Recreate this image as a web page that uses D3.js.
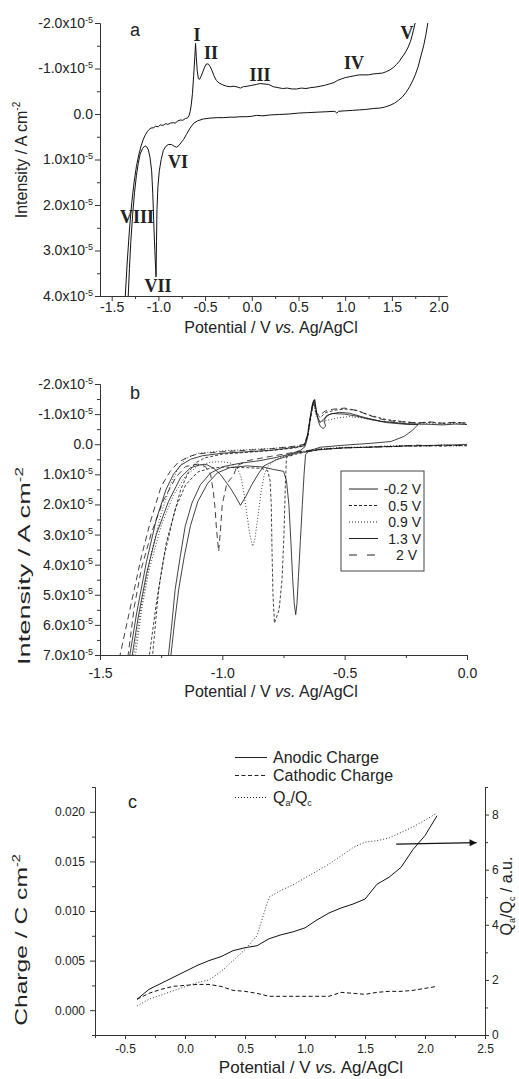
<!DOCTYPE html>
<html>
<head>
<meta charset="utf-8">
<script src="https://cdn.jsdelivr.net/npm/d3@7"></script>
<style>
body{margin:0;background:#fff;}
svg{display:block;font-family:Arial,"Liberation Sans",sans-serif;}
</style>
</head>
<body>
<svg id="fig" width="519" height="1079"></svg>
<script>
// ---------- data (currents in units of 1e-5 A cm-2) ----------

// panel a : one voltammogram, anodic-going branch and return branch
var cvForward = [[-1.365,4.3],[-1.357,4.1],[-1.335,3.3],[-1.31,2.55],[-1.285,1.95],[-1.26,1.5],[-1.235,1.15],[-1.21,0.9],[-1.185,0.7],[-1.16,0.55],[-1.14,0.46],[-1.12,0.39],[-1.1,0.34],[-1.08,0.31],[-1.05,0.3],[-1.03,0.27],[-1.0,0.28],[-0.98,0.24],[-0.95,0.25],[-0.92,0.21],[-0.9,0.23],[-0.87,0.2],[-0.84,0.19],[-0.82,0.2],[-0.79,0.15],[-0.76,0.13],[-0.74,0.14],[-0.71,0.1],[-0.69,0.09],[-0.672,0.04],[-0.66,-0.05],[-0.648,-0.2],[-0.635,-0.45],[-0.622,-0.85],[-0.61,-1.25],[-0.602,-1.55],[-0.594,-1.25],[-0.584,-0.95],[-0.572,-0.78],[-0.56,-0.76],[-0.545,-0.82],[-0.525,-0.92],[-0.505,-1.03],[-0.485,-1.1],[-0.465,-1.1],[-0.445,-1.04],[-0.425,-0.95],[-0.405,-0.84],[-0.38,-0.74],[-0.35,-0.68],[-0.31,-0.64],[-0.27,-0.61],[-0.23,-0.6],[-0.19,-0.61],[-0.15,-0.59],[-0.12,-0.57],[-0.09,-0.6],[-0.05,-0.61],[0.0,-0.63],[0.05,-0.65],[0.09,-0.67],[0.13,-0.66],[0.18,-0.65],[0.23,-0.6],[0.28,-0.58],[0.33,-0.56],[0.38,-0.57],[0.43,-0.55],[0.48,-0.55],[0.53,-0.57],[0.58,-0.56],[0.63,-0.58],[0.68,-0.59],[0.73,-0.61],[0.78,-0.63],[0.83,-0.66],[0.88,-0.69],[0.92,-0.74],[0.96,-0.77],[1.0,-0.8],[1.05,-0.82],[1.1,-0.84],[1.15,-0.86],[1.2,-0.86],[1.25,-0.86],[1.3,-0.88],[1.35,-0.89],[1.4,-0.9],[1.44,-0.93],[1.48,-0.97],[1.52,-1.03],[1.55,-1.09],[1.58,-1.16],[1.61,-1.25],[1.64,-1.34],[1.67,-1.45],[1.7,-1.6],[1.73,-1.83],[1.76,-2.1]];
var cvReverse = [[1.9,-2.15],[1.89,-2.07],[1.865,-1.75],[1.84,-1.5],[1.81,-1.27],[1.78,-1.03],[1.75,-0.86],[1.72,-0.72],[1.69,-0.6],[1.65,-0.47],[1.61,-0.37],[1.57,-0.3],[1.53,-0.24],[1.48,-0.19],[1.42,-0.15],[1.37,-0.13],[1.3,-0.12],[1.22,-0.1],[1.15,-0.09],[1.08,-0.08],[1.0,-0.07],[0.93,-0.06],[0.91,-0.02],[0.89,-0.06],[0.8,-0.05],[0.7,-0.04],[0.6,-0.03],[0.5,-0.02],[0.4,0.0],[0.3,0.01],[0.2,0.02],[0.12,0.04],[0.05,0.03],[0.0,0.05],[-0.06,0.06],[-0.126,0.06],[-0.18,0.07],[-0.233,0.07],[-0.3,0.08],[-0.37,0.08],[-0.447,0.09],[-0.52,0.11],[-0.58,0.15],[-0.62,0.2],[-0.661,0.31],[-0.7,0.45],[-0.73,0.56],[-0.75,0.61],[-0.78,0.69],[-0.804,0.73],[-0.83,0.71],[-0.86,0.67],[-0.894,0.67],[-0.92,0.71],[-0.947,0.8],[-0.97,1.0],[-0.99,1.25],[-1.005,1.6],[-1.015,2.1],[-1.02,2.8],[-1.025,3.58],[-1.038,3.0],[-1.05,2.35],[-1.06,1.75],[-1.072,1.25],[-1.09,0.95],[-1.107,0.79],[-1.125,0.72],[-1.143,0.7],[-1.17,0.76],[-1.195,0.88],[-1.215,1.08],[-1.235,1.35],[-1.255,1.72],[-1.275,2.2],[-1.295,2.8],[-1.31,3.4],[-1.325,4.1],[-1.333,4.4]];
var peakNames = ["I","II","III","IV","V","VI","VII","VIII"];
var peakPos = [[-0.586,-1.6],[-0.437,-1.21],[0.088,-0.73],[1.095,-0.99],[1.662,-1.65],[-0.79,1.19],[-1.004,3.91],[-1.229,2.4]];

// panel b : voltammograms with different anodic limits
var sweepLimits = ["-0.2 V","0.5 V","0.9 V","1.3 V","2 V"];
var sweepM02 = [[-1.23,7.5],[-1.22,7.0],[-1.206,5.94],[-1.193,4.83],[-1.172,3.73],[-1.152,2.73],[-1.124,1.95],[-1.09,1.35],[-1.049,0.96],[-0.995,0.74],[-0.926,0.63],[-0.85,0.55],[-0.78,0.44],[-0.72,0.32],[-0.68,0.2],[-0.662,0.08],[-0.652,-0.2],[-0.642,-0.8],[-0.632,-1.3],[-0.624,-1.48],[-0.616,-1.1],[-0.608,-0.78],[-0.6,-0.6],[-0.588,-0.52],[-0.578,-0.6],[-0.584,-0.78],[-0.574,-0.95],[-0.55,-1.02],[-0.5,-1.0],[-0.45,-0.93],[-0.4,-0.83],[-0.33,-0.72],[-0.25,-0.66],[-0.2,-0.65],[-0.225,-0.45],[-0.257,-0.26],[-0.311,-0.09],[-0.393,-0.03],[-0.5,0.03],[-0.6,0.1],[-0.645,0.22],[-0.66,0.35],[-0.666,1.0],[-0.673,2.0],[-0.681,3.2],[-0.689,4.4],[-0.695,5.3],[-0.7,5.66],[-0.706,5.3],[-0.713,4.4],[-0.72,3.2],[-0.728,2.0],[-0.738,1.2],[-0.75,0.9],[-0.79,0.84],[-0.831,0.76],[-0.9,0.72],[-0.97,0.78],[-1.02,0.95],[-1.06,1.3],[-1.1,1.9],[-1.13,2.7],[-1.155,3.7],[-1.178,4.8],[-1.195,5.9],[-1.21,7.0],[-1.218,7.5]];
var sweep05 = [[0.02,0.06],[-0.05,0.04],[-0.1,0.07],[-0.15,0.04],[-0.2,0.07],[-0.25,0.05],[-0.3,0.08],[-0.35,0.07],[-0.4,0.1],[-0.5,0.12],[-0.6,0.18],[-0.66,0.26],[-0.7,0.33],[-0.738,0.43],[-0.743,1.5],[-0.748,3.0],[-0.756,4.5],[-0.768,5.5],[-0.787,5.94],[-0.793,5.0],[-0.797,3.5],[-0.8,2.0],[-0.805,1.2],[-0.815,0.88],[-0.84,0.8],[-0.9,0.78],[-1.0,0.76],[-1.05,0.8],[-1.1,0.92],[-1.15,1.35],[-1.19,2.1],[-1.23,3.3],[-1.26,4.8],[-1.285,7.0],[-1.29,7.5],[-1.31,7.5],[-1.298,7.0],[-1.27,5.3],[-1.24,3.8],[-1.2,2.4],[-1.17,1.5],[-1.14,0.95],[-1.11,0.62],[-1.07,0.45],[-1.0,0.33],[-0.9,0.27],[-0.8,0.21],[-0.7,0.12],[-0.665,0.05],[-0.65,-0.3],[-0.638,-0.9],[-0.627,-1.42],[-0.615,-1.02],[-0.6,-0.88],[-0.578,-1.05],[-0.54,-1.13],[-0.5,-1.17],[-0.45,-1.12],[-0.4,-0.97],[-0.33,-0.82],[-0.25,-0.74],[-0.2,-0.7],[-0.15,-0.73],[-0.1,-0.69],[-0.05,-0.72],[0.02,-0.7]];
var sweep09 = [[0.02,0.04],[-0.05,0.06],[-0.1,0.02],[-0.15,0.06],[-0.2,0.05],[-0.3,0.05],[-0.4,0.09],[-0.5,0.1],[-0.6,0.15],[-0.7,0.27],[-0.78,0.5],[-0.812,0.72],[-0.828,0.98],[-0.842,1.6],[-0.856,2.5],[-0.867,3.15],[-0.876,3.39],[-0.888,3.0],[-0.9,2.3],[-0.912,1.6],[-0.925,1.05],[-0.94,0.78],[-0.965,0.63],[-1.0,0.58],[-1.05,0.6],[-1.1,0.72],[-1.15,1.05],[-1.2,1.7],[-1.25,2.7],[-1.3,4.2],[-1.33,5.5],[-1.355,7.0],[-1.365,7.5],[-1.375,7.5],[-1.362,7.0],[-1.33,5.3],[-1.29,3.6],[-1.25,2.3],[-1.21,1.3],[-1.18,0.8],[-1.15,0.48],[-1.1,0.3],[-1.0,0.22],[-0.9,0.18],[-0.8,0.14],[-0.7,0.08],[-0.665,0.02],[-0.65,-0.3],[-0.639,-0.9],[-0.628,-1.35],[-0.616,-0.92],[-0.6,-0.74],[-0.57,-0.8],[-0.53,-0.87],[-0.48,-0.92],[-0.42,-0.86],[-0.35,-0.76],[-0.25,-0.69],[-0.2,-0.66],[-0.15,-0.7],[-0.1,-0.66],[-0.05,-0.69],[0.02,-0.65]];
var sweep13 = [[0.02,0.0],[-0.05,0.02],[-0.1,0.03],[-0.2,0.05],[-0.3,0.07],[-0.4,0.1],[-0.5,0.12],[-0.6,0.18],[-0.7,0.3],[-0.78,0.52],[-0.83,0.72],[-0.851,0.96],[-0.88,1.35],[-0.905,1.75],[-0.926,2.03],[-0.945,1.75],[-0.967,1.46],[-0.99,1.2],[-1.008,1.0],[-1.035,0.8],[-1.063,0.68],[-1.09,0.68],[-1.13,0.78],[-1.17,1.1],[-1.22,1.9],[-1.27,3.0],[-1.31,4.3],[-1.345,5.8],[-1.368,7.0],[-1.376,7.5],[-1.39,7.5],[-1.378,7.0],[-1.35,5.6],[-1.31,3.9],[-1.27,2.5],[-1.23,1.5],[-1.2,1.0],[-1.17,0.7],[-1.13,0.5],[-1.08,0.38],[-1.0,0.3],[-0.9,0.25],[-0.8,0.2],[-0.7,0.1],[-0.665,0.05],[-0.652,-0.3],[-0.641,-0.9],[-0.63,-1.4],[-0.622,-1.48],[-0.613,-0.95],[-0.6,-0.72],[-0.585,-0.85],[-0.56,-1.0],[-0.52,-1.06],[-0.48,-1.03],[-0.42,-0.89],[-0.35,-0.76],[-0.25,-0.68],[-0.15,-0.66],[-0.1,-0.64],[-0.05,-0.67],[0.02,-0.65]];
var sweep2 = [[0.02,0.02],[-0.05,0.05],[-0.1,0.03],[-0.15,0.06],[-0.2,0.03],[-0.3,0.08],[-0.4,0.1],[-0.5,0.12],[-0.6,0.16],[-0.7,0.26],[-0.8,0.4],[-0.9,0.55],[-0.94,0.72],[-0.955,1.05],[-0.981,1.29],[-0.995,1.8],[-1.001,2.07],[-1.008,2.9],[-1.015,3.56],[-1.024,2.8],[-1.03,2.1],[-1.036,1.62],[-1.048,1.0],[-1.07,0.74],[-1.1,0.66],[-1.15,0.74],[-1.19,1.1],[-1.24,1.85],[-1.29,2.95],[-1.33,4.1],[-1.36,5.4],[-1.385,7.0],[-1.392,7.5],[-1.43,7.5],[-1.418,7.0],[-1.37,5.2],[-1.33,3.7],[-1.295,2.6],[-1.25,1.4],[-1.213,0.9],[-1.18,0.6],[-1.14,0.42],[-1.1,0.32],[-1.0,0.25],[-0.9,0.2],[-0.8,0.15],[-0.7,0.06],[-0.665,0.0],[-0.652,-0.3],[-0.64,-0.9],[-0.628,-1.45],[-0.616,-1.02],[-0.602,-0.96],[-0.58,-1.1],[-0.55,-1.16],[-0.5,-1.2],[-0.45,-1.12],[-0.4,-0.96],[-0.35,-0.83],[-0.3,-0.76],[-0.2,-0.71],[-0.15,-0.74],[-0.1,-0.7],[-0.05,-0.73],[0.02,-0.68]];

// panel c : charges vs anodic limit
var chargePot = [-0.4,-0.3,-0.2,-0.1,0.0,0.1,0.2,0.3,0.4,0.5,0.6,0.7,0.8,0.9,1.0,1.1,1.2,1.3,1.4,1.5,1.6,1.7,1.8,1.9,2.0,2.1];
var anodicCharge = [0.0011,0.0021,0.0027,0.0033,0.0039,0.0045,0.0050,0.0054,0.0060,0.0063,0.0065,0.0072,0.0076,0.0079,0.0083,0.0091,0.0098,0.0103,0.0107,0.0112,0.0127,0.0134,0.0144,0.0162,0.0176,0.0196];
var cathodicCharge = [0.0011,0.0017,0.0021,0.0024,0.0025,0.0026,0.0026,0.0024,0.0020,0.0019,0.0017,0.0014,0.0014,0.0014,0.0014,0.0014,0.0014,0.0018,0.0017,0.0016,0.0018,0.0019,0.0019,0.0020,0.0022,0.0024];
var chargeRatio = [1.05,1.3,1.45,1.6,1.75,1.9,2.0,2.3,2.7,3.1,3.6,5.0,5.25,5.45,5.7,5.95,6.2,6.5,6.8,7.0,7.05,7.15,7.35,7.55,7.8,8.05];
var arrowFrom = [1.76,6.93], arrowTo = [2.43,6.98];

var svg = d3.select("#fig");
var ink = "#222";

function styleAxis(g, fs){
  g.attr("font-size", fs).attr("font-family", "Arial, 'Liberation Sans', sans-serif");
  g.select(".domain").attr("stroke", "#333");
  g.selectAll(".tick line").attr("stroke", "#333");
  g.selectAll(".tick text").attr("fill", ink);
}
// "x10-5" style tick labels
function expLabels(g){
  g.selectAll(".tick text").each(function(d){
    var t = d3.select(this);
    t.text(null);
    if(d === 0){ t.text("0.0"); return; }
    t.append("tspan").text(d.toFixed(1) + "x10");
    t.append("tspan").attr("dy", "-0.6em").attr("font-size", "9px").text("-5");
  });
}
function clip(id, x0, y0, x1, y1){
  svg.append("clipPath").attr("id", id).append("rect")
    .attr("x", x0).attr("y", y0).attr("width", x1 - x0).attr("height", y1 - y0);
}
function minorAxis(axisFn, scale, vals, size){
  return axisFn(scale).tickValues(vals).tickSize(size).tickSizeOuter(0).tickFormat("");
}

// ================= panel a =================
var xa = d3.scaleLinear().domain([-1.625, 2.09]).range([100, 447]);
var ya = d3.scaleLinear().domain([-2, 4]).range([23, 296]);
clip("clipA", 100, 23, 447, 296);

svg.append("g").attr("transform", "translate(0,296)")
  .call(d3.axisBottom(xa).tickValues([-1.5,-1,-0.5,0,0.5,1,1.5,2]).tickSize(5).tickSizeOuter(0).tickPadding(1))
  .call(styleAxis, 14)
  .call(g => g.selectAll(".tick text").text(d => d.toFixed(1)));
svg.append("g").attr("transform", "translate(0,296)")
  .call(minorAxis(d3.axisBottom, xa, [-1.25,-0.75,-0.25,0.25,0.75,1.25,1.75], 3)).call(styleAxis, 14);
svg.append("g").attr("transform", "translate(100,0)")
  .call(d3.axisLeft(ya).tickValues([-2,-1,0,1,2,3,4]).tickSize(5).tickSizeOuter(0).tickPadding(2))
  .call(styleAxis, 14).call(expLabels);
svg.append("g").attr("transform", "translate(100,0)")
  .call(minorAxis(d3.axisLeft, ya, [-1.5,-0.5,0.5,1.5,2.5,3.5], 3)).call(styleAxis, 14);

var lineA = d3.line().x(d => xa(d[0])).y(d => ya(d[1]));
svg.append("g").attr("clip-path", "url(#clipA)")
  .selectAll("path").data([cvForward, cvReverse]).enter().append("path")
  .attr("d", lineA).attr("fill", "none").attr("stroke", "#111").attr("stroke-width", 1);

svg.append("g").selectAll("text").data(peakNames).enter().append("text")
  .attr("x", (d, i) => xa(peakPos[i][0])).attr("y", (d, i) => ya(peakPos[i][1]))
  .attr("text-anchor", "middle").attr("font-family", "'Liberation Serif', 'Times New Roman', serif")
  .attr("font-weight", "bold").attr("font-size", 18).attr("fill", ink).text(d => d);

svg.append("text").attr("x", 130).attr("y", 36).attr("font-size", 18).attr("fill", ink).text("a");
svg.append("text").attr("x", 271).attr("y", 333).attr("text-anchor", "middle").attr("font-size", 16).attr("fill", ink)
  .html("Potential / V <tspan font-style='italic'>vs.</tspan> Ag/AgCl");
svg.append("text").attr("transform", "translate(27,160) rotate(-90)").attr("text-anchor", "middle")
  .attr("font-size", 16).attr("fill", ink)
  .html("Intensity / A cm<tspan dy='-7' font-size='10'>-2</tspan>");

// ================= panel b =================
var xb = d3.scaleLinear().domain([-1.5, 0]).range([100, 467]);
var yb = d3.scaleLinear().domain([-2, 7]).range([384, 655]);
clip("clipB", 100, 384, 467, 655);

svg.append("g").attr("transform", "translate(0,655)")
  .call(d3.axisBottom(xb).tickValues([-1.5,-1,-0.5,0]).tickSize(5).tickSizeOuter(0).tickPadding(8))
  .call(styleAxis, 14)
  .call(g => g.selectAll(".tick text").text(d => d.toFixed(1)));
svg.append("g").attr("transform", "translate(0,655)")
  .call(minorAxis(d3.axisBottom, xb, [-1.25,-0.75,-0.25], 3)).call(styleAxis, 14);
svg.append("g").attr("transform", "translate(100,0)")
  .call(d3.axisLeft(yb).tickValues([-2,-1,0,1,2,3,4,5,6,7]).tickSize(5).tickSizeOuter(0).tickPadding(2))
  .call(styleAxis, 14).call(expLabels);
svg.append("g").attr("transform", "translate(100,0)")
  .call(minorAxis(d3.axisLeft, yb, [-1.5,-0.5,0.5,1.5,2.5,3.5,4.5,5.5,6.5], 3)).call(styleAxis, 14);

var sweeps = [sweepM02, sweep05, sweep09, sweep13, sweep2];
var sweepDash = [null, "3,2", "1,2", null, "6,4"];
var legendDash = [null, "3,2", "1,2", null, "8,10"];
var lineB = d3.line().x(d => xb(d[0])).y(d => yb(d[1]));
svg.append("g").attr("clip-path", "url(#clipB)")
  .selectAll("path").data(sweeps).enter().append("path")
  .attr("d", lineB).attr("fill", "none").attr("stroke", "#111").attr("stroke-width", 0.8)
  .attr("stroke-dasharray", (d, i) => sweepDash[i]);

// legend box
var leg = svg.append("g");
leg.append("rect").attr("x", 341).attr("y", 471).attr("width", 83).attr("height", 100)
  .attr("fill", "#fff").attr("stroke", "#444").attr("stroke-width", 1);
sweepLimits.forEach(function(s, i){
  var yy = 489 + i * 16.5;
  leg.append("line").attr("x1", 349).attr("x2", 378).attr("y1", yy).attr("y2", yy)
    .attr("stroke", "#222").attr("stroke-width", 1).attr("stroke-dasharray", legendDash[i]);
  leg.append("text").attr("x", i == 4 ? 417 : 421).attr("y", yy + 5).attr("text-anchor", "end")
    .attr("font-size", 14).attr("fill", ink).text(s);
});

svg.append("text").attr("x", 130).attr("y", 399).attr("font-size", 18).attr("fill", ink).text("b");
svg.append("text").attr("x", 271).attr("y", 697).attr("text-anchor", "middle").attr("font-size", 16).attr("fill", ink)
  .html("Potential / V <tspan font-style='italic'>vs.</tspan> Ag/AgCl");
svg.append("text").attr("transform", "translate(30,566) rotate(-90) scale(1.7,1)").attr("text-anchor", "middle")
  .attr("font-size", 16).attr("fill", ink)
  .html("Intensity / A cm<tspan dy='-7' font-size='10'>-2</tspan>");

// ================= panel c =================
var xc = d3.scaleLinear().domain([-0.75, 2.5]).range([95, 485]);
var yc = d3.scaleLinear().domain([-0.0025, 0.0225]).range([1035, 787]);
var yr = d3.scaleLinear().domain([0, 9]).range([1035, 787]);

svg.append("g").attr("transform", "translate(0,1035)")
  .call(d3.axisBottom(xc).tickValues([-0.5,0,0.5,1,1.5,2,2.5]).tickSize(4).tickSizeOuter(0).tickPadding(5))
  .call(styleAxis, 12)
  .call(g => g.selectAll(".tick text").text(d => d.toFixed(1)));
svg.append("g").attr("transform", "translate(0,1035)")
  .call(minorAxis(d3.axisBottom, xc, [-0.75,-0.25,0.25,0.75,1.25,1.75,2.25], 3)).call(styleAxis, 12);
svg.append("g").attr("transform", "translate(95,0)")
  .call(d3.axisLeft(yc).tickValues([0,0.005,0.01,0.015,0.02]).tickSize(5).tickSizeOuter(0).tickPadding(5).tickFormat(d3.format(".3f")))
  .call(styleAxis, 12);
svg.append("g").attr("transform", "translate(95,0)")
  .call(minorAxis(d3.axisLeft, yc, [-0.0025,0.0025,0.0075,0.0125,0.0175,0.0225], 3)).call(styleAxis, 12);
svg.append("g").attr("transform", "translate(485,0)")
  .call(d3.axisRight(yr).tickValues([0,2,4,6,8]).tickSize(4).tickSizeOuter(0).tickPadding(3).tickFormat(d3.format("d")))
  .call(styleAxis, 12);
svg.append("g").attr("transform", "translate(485,0)")
  .call(minorAxis(d3.axisRight, yr, [1,3,5,7,9], 3)).call(styleAxis, 12);

var lineQ = d3.line().x((d, i) => xc(chargePot[i])).y(d => yc(d));
var lineR = d3.line().x((d, i) => xc(chargePot[i])).y(d => yr(d));
svg.append("path").attr("d", lineQ(anodicCharge)).attr("fill", "none").attr("stroke", "#111").attr("stroke-width", 1);
svg.append("path").attr("d", lineQ(cathodicCharge)).attr("fill", "none").attr("stroke", "#111").attr("stroke-width", 1).attr("stroke-dasharray", "4,2.5");
svg.append("path").attr("d", lineR(chargeRatio)).attr("fill", "none").attr("stroke", "#333").attr("stroke-width", 1).attr("stroke-dasharray", "1,2");

// arrow toward right axis
svg.append("defs").append("marker").attr("id", "arr").attr("viewBox", "0 0 10 10")
  .attr("refX", 10).attr("refY", 5).attr("markerWidth", 11).attr("markerHeight", 7)
  .attr("markerUnits", "userSpaceOnUse").attr("orient", "auto")
  .append("path").attr("d", "M0,0L10,5L0,10Z").attr("fill", "#111");
svg.append("line").attr("x1", xc(arrowFrom[0])).attr("y1", yr(arrowFrom[1]))
  .attr("x2", xc(arrowTo[0])).attr("y2", yr(arrowTo[1]))
  .attr("stroke", "#111").attr("stroke-width", 1.2).attr("marker-end", "url(#arr)");

// legend c
var legC = [["Anodic Charge", null, 757.5], ["Cathodic Charge", "4,2.5", 775.5], ["Q", "1,2", 797.5]];
legC.forEach(function(l){
  svg.append("line").attr("x1", 235).attr("x2", 267).attr("y1", l[2]).attr("y2", l[2])
    .attr("stroke", "#222").attr("stroke-width", 1).attr("stroke-dasharray", l[1]);
});
svg.append("text").attr("x", 273).attr("y", 763).attr("font-size", 16).attr("fill", ink).text("Anodic Charge");
svg.append("text").attr("x", 273).attr("y", 781).attr("font-size", 16).attr("fill", ink).text("Cathodic Charge");
svg.append("text").attr("x", 273).attr("y", 803).attr("font-size", 16).attr("fill", ink)
  .html("Q<tspan dy='3' font-size='9'>a</tspan><tspan dy='-3'>/Q</tspan><tspan dy='3' font-size='9'>c</tspan>");

svg.append("text").attr("x", 128).attr("y", 808).attr("font-size", 18).attr("fill", ink).text("c");
svg.append("text").attr("x", 311).attr("y", 1073).attr("text-anchor", "middle").attr("font-size", 17).attr("fill", ink)
  .html("Potential / V <tspan font-style='italic'>vs.</tspan> Ag/AgCl");
svg.append("text").attr("transform", "translate(27,940) rotate(-90) scale(1.45,1)").attr("text-anchor", "middle")
  .attr("font-size", 17).attr("fill", ink)
  .html("Charge / C cm<tspan dy='-7' font-size='10'>-2</tspan>");
svg.append("text").attr("transform", "translate(512,896) rotate(-90)").attr("text-anchor", "middle")
  .attr("font-size", 16).attr("fill", ink)
  .html("Q<tspan dy='3' font-size='9'>a</tspan><tspan dy='-3'>/Q</tspan><tspan dy='3' font-size='9'>c</tspan><tspan dy='-3'> / a.u.</tspan>");
</script>
</body>
</html>
